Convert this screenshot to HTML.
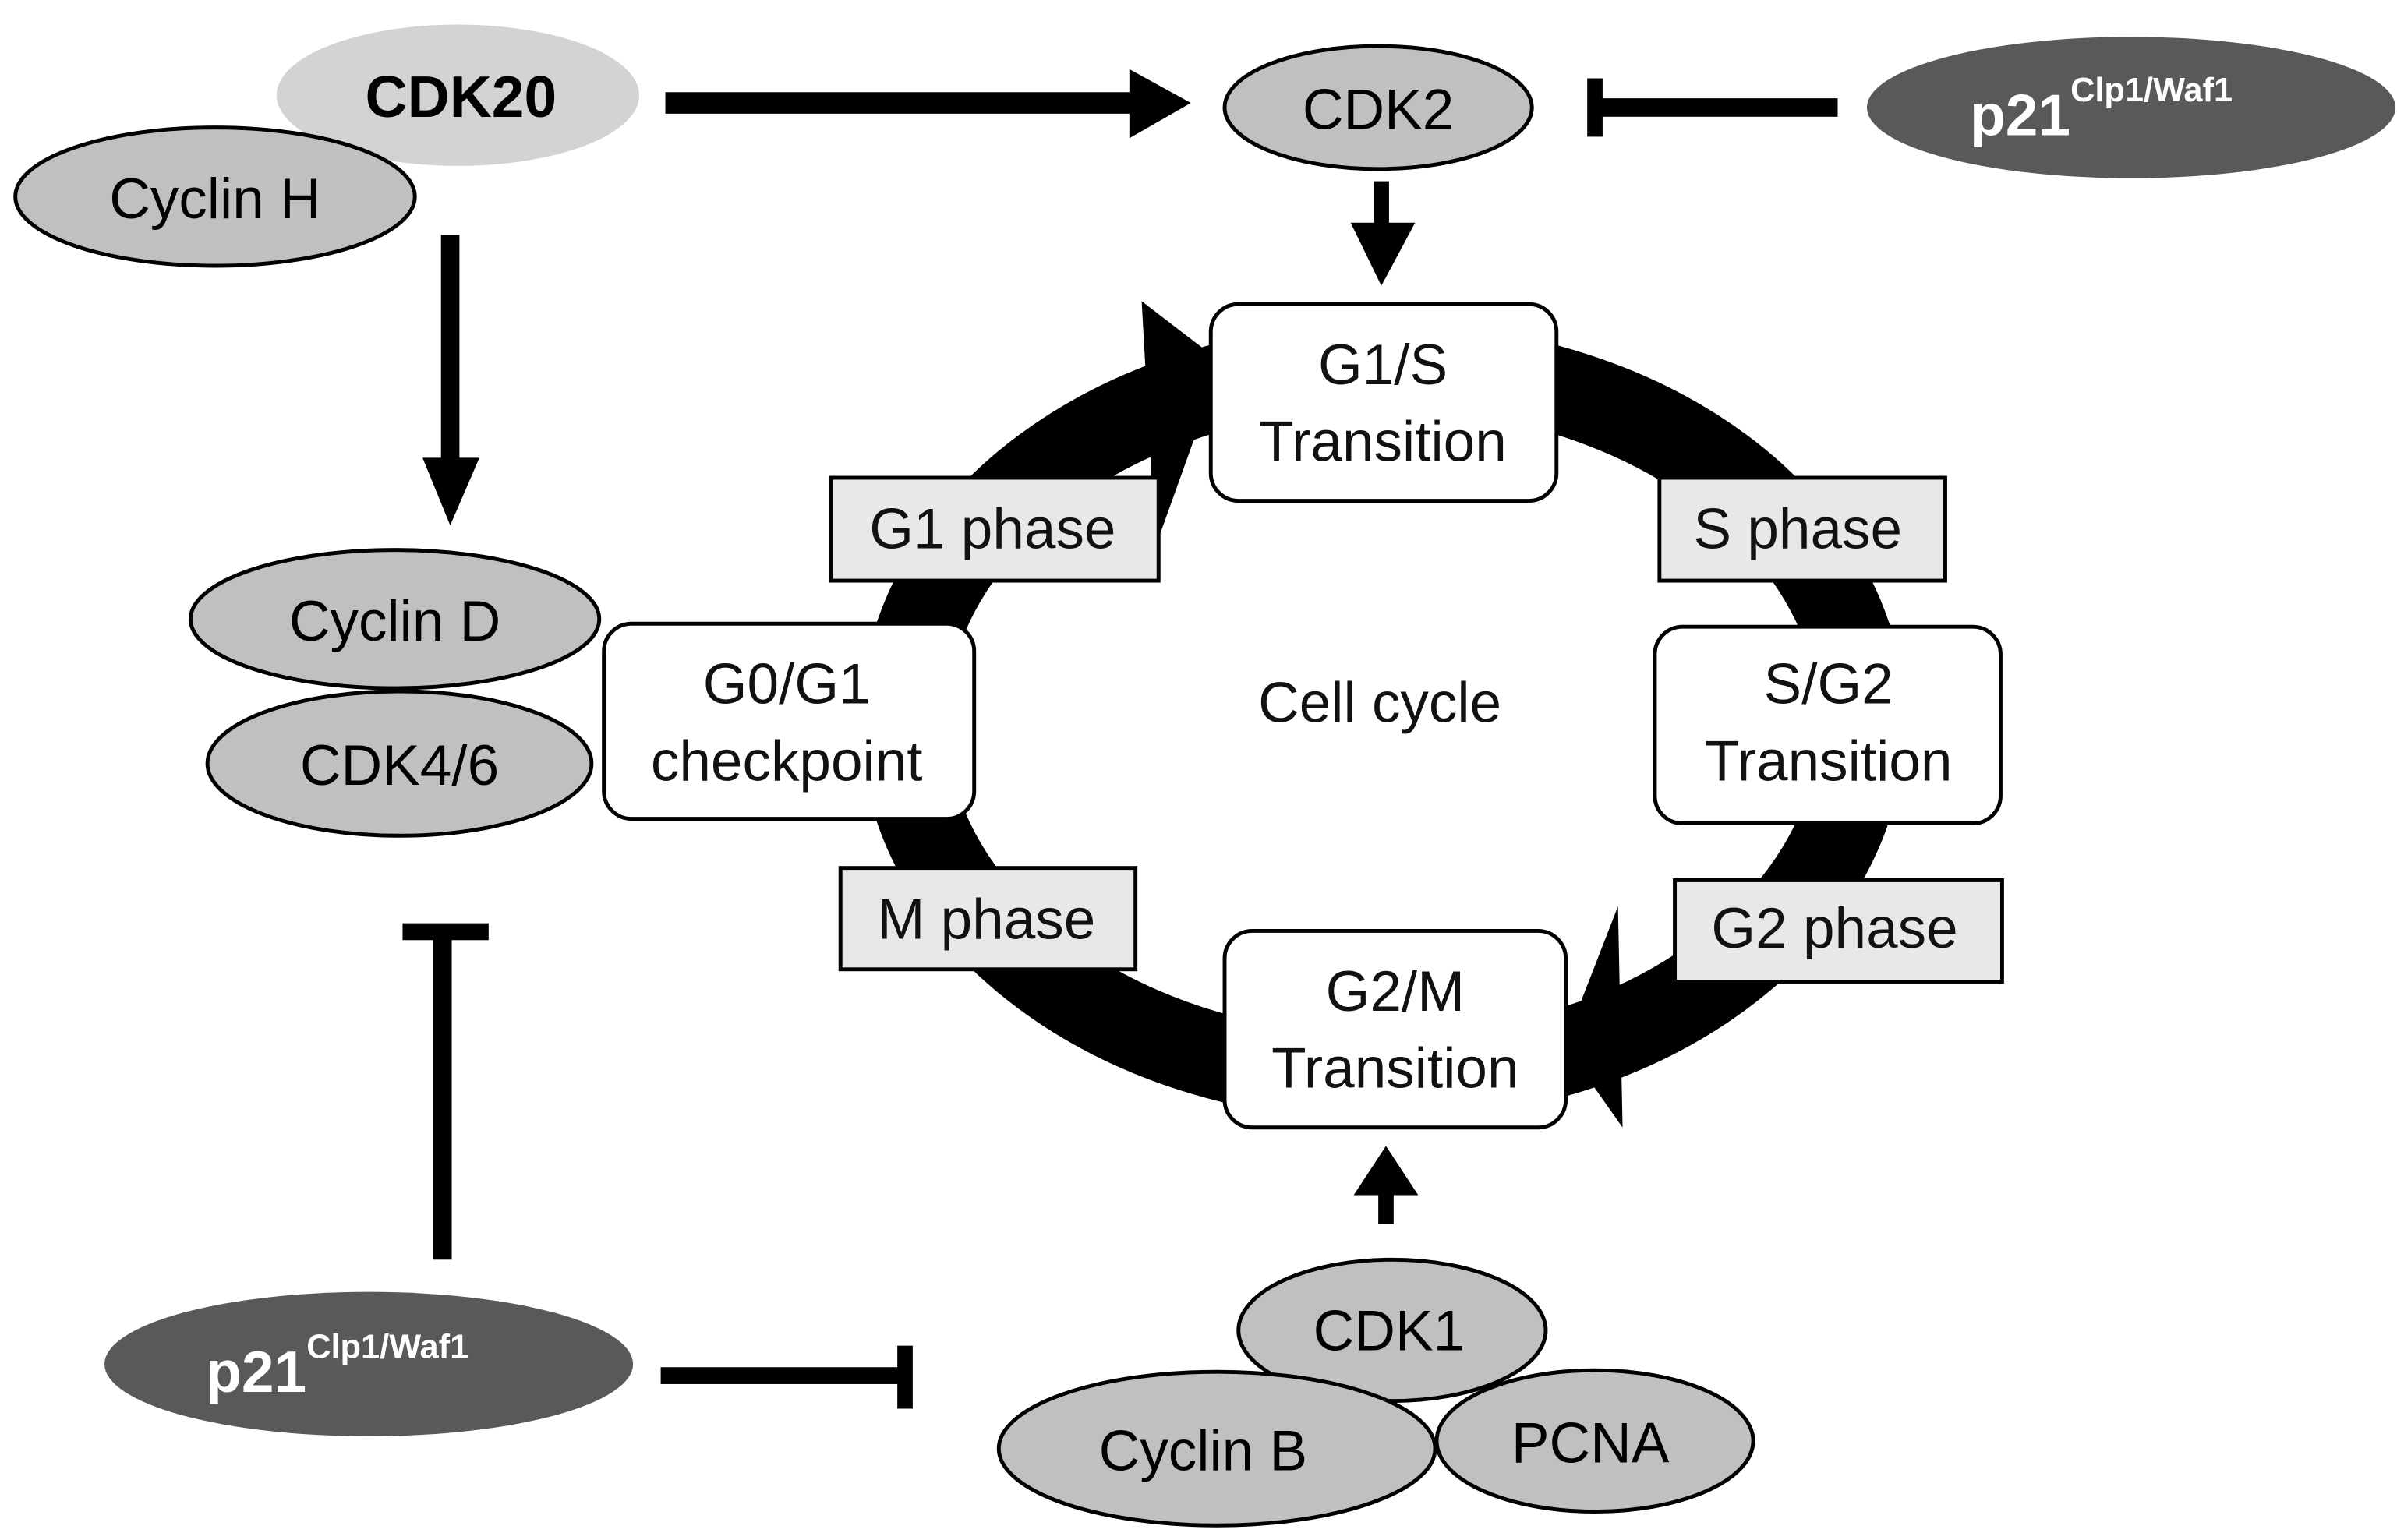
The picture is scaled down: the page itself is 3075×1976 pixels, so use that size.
<!DOCTYPE html>
<html><head><meta charset="utf-8"><style>html,body{margin:0;padding:0;background:#fff}svg{display:block}</style></head>
<body>
<svg width="3075" height="1976" viewBox="0 0 1560 1002.5" preserveAspectRatio="none" xmlns="http://www.w3.org/2000/svg" font-family="Liberation Sans, sans-serif">
<rect width="1560" height="1003" fill="#fff"/>
<!-- ring -->
<ellipse cx="900" cy="470" rx="312" ry="232" fill="none" stroke="#000" stroke-width="56"/>
<polygon points="743,196 795,236 752,356" fill="#000"/>
<polygon points="1053,590 1018,680 1056,734" fill="#000"/>
<g stroke="#000" stroke-width="2.5">
<rect x="788" y="198" width="225" height="128" rx="18" fill="#fff"/>
<rect x="393" y="406" width="241" height="127" rx="18" fill="#fff"/>
<rect x="1077" y="408" width="225" height="128" rx="18" fill="#fff"/>
<rect x="797" y="606" width="222" height="128" rx="18" fill="#fff"/>
<rect x="541" y="311" width="213" height="67" fill="#e8e8e8"/>
<rect x="1080" y="311" width="186" height="67" fill="#e8e8e8"/>
<rect x="547" y="565" width="192" height="66" fill="#e8e8e8"/>
<rect x="1090" y="573" width="213" height="66" fill="#e8e8e8"/>
</g>
<g font-size="37" text-anchor="middle" fill="#111">
<text x="900" y="250">G1/S</text><text x="900" y="300">Transition</text>
<text x="512" y="458">G0/G1</text><text x="512" y="508">checkpoint</text>
<text x="1190" y="458">S/G2</text><text x="1190" y="508">Transition</text>
<text x="908" y="658">G2/M</text><text x="908" y="708">Transition</text>
<text x="646" y="357">G1 phase</text>
<text x="1170" y="357">S phase</text>
<text x="642" y="611">M phase</text>
<text x="1194" y="617">G2 phase</text>
<text x="898" y="470">Cell cycle</text>
</g>
<!-- top left -->
<ellipse cx="298" cy="62" rx="118" ry="46" fill="#d3d3d3"/>
<text x="300" y="76" font-size="38" font-weight="bold" text-anchor="middle">CDK20</text>
<ellipse cx="140" cy="128" rx="130" ry="45" fill="#c0c0c0" stroke="#000" stroke-width="2.5"/>
<text x="140" y="142" font-size="37" text-anchor="middle">Cyclin H</text>
<ellipse cx="897" cy="70" rx="100" ry="40" fill="#c0c0c0" stroke="#000" stroke-width="2.5"/>
<text x="897" y="84" font-size="37" text-anchor="middle">CDK2</text>
<ellipse cx="1387" cy="70" rx="172" ry="46" fill="#595959"/>
<text x="1282" y="88" font-size="38" font-weight="bold" fill="#fff">p21<tspan font-size="22" dy="-22">Clp1/Waf1</tspan></text>
<ellipse cx="257" cy="403" rx="133" ry="45" fill="#c0c0c0" stroke="#000" stroke-width="2.5"/>
<text x="257" y="417" font-size="37" text-anchor="middle">Cyclin D</text>
<ellipse cx="260" cy="497" rx="125" ry="47" fill="#c0c0c0" stroke="#000" stroke-width="2.5"/>
<text x="260" y="511" font-size="37" text-anchor="middle">CDK4/6</text>
<ellipse cx="240" cy="888" rx="172" ry="47" fill="#595959"/>
<text x="134" y="906" font-size="38" font-weight="bold" fill="#fff">p21<tspan font-size="22" dy="-22">Clp1/Waf1</tspan></text>
<!-- bottom complex -->
<g stroke="#000" stroke-width="2.5" fill="#c0c0c0">
<ellipse cx="906" cy="866" rx="100" ry="46"/>
<ellipse cx="1038" cy="938" rx="103" ry="46"/>
<ellipse cx="792" cy="943" rx="142" ry="50"/>
</g>
<g font-size="37" text-anchor="middle">
<text x="904" y="879">CDK1</text>
<text x="783" y="957">Cyclin B</text>
<text x="1035" y="952">PCNA</text>
</g>
<!-- arrows -->
<g fill="#000">
<rect x="433" y="60" width="305" height="14"/><polygon points="735,45 775,67 735,90"/>
<rect x="287" y="153" width="12" height="150"/><polygon points="275,298 312,298 293,342"/>
<rect x="894" y="118" width="10" height="30"/><polygon points="879,145 921,145 899,186"/>
<rect x="897" y="775" width="10" height="22"/><polygon points="881,778 923,778 902,746"/>
<rect x="1040" y="64" width="156" height="12"/><rect x="1033" y="51" width="10" height="38"/>
<rect x="282" y="610" width="12" height="210"/><rect x="262" y="601" width="56" height="11"/>
<rect x="430" y="890" width="160" height="11"/><rect x="584" y="876" width="10" height="41"/>
</g>
</svg>
</body></html>
